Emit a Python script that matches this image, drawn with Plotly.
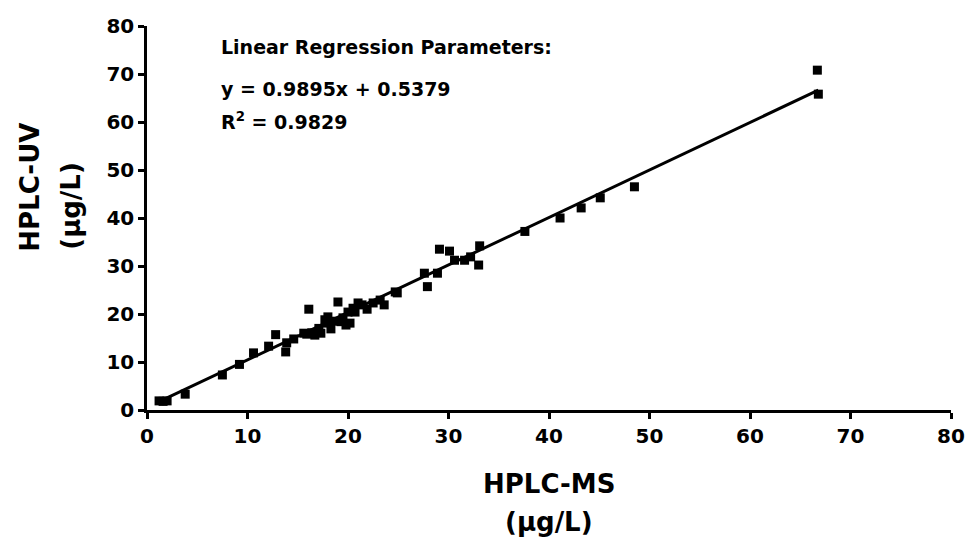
import plotly.graph_objects as go

# HPLC-MS (x) vs HPLC-UV (y), µg/L
ms = [1.2, 1.6, 2.0, 3.8, 7.5, 9.2, 10.6, 12.1, 12.8, 13.8, 13.9, 14.6,
      15.6, 15.9, 16.1, 16.4, 16.7, 17.1, 17.3, 17.7, 17.8, 18.0, 18.3, 18.6,
      19.0, 19.3, 19.5, 19.8, 20.0, 20.2, 20.5, 20.7, 21.0, 21.4, 21.9, 22.5,
      23.2, 23.6, 24.7, 24.9, 27.6, 27.9, 28.9, 29.1, 30.1, 30.6, 31.6, 32.2,
      33.0, 33.1, 37.6, 41.1, 43.2, 45.1, 48.5, 66.7, 66.8]
uv = [1.9, 1.8, 1.9, 3.3, 7.3, 9.5, 11.9, 13.3, 15.7, 12.1, 14.0, 14.8,
      16.0, 15.8, 21.0, 16.1, 15.6, 17.0, 16.0, 18.8, 18.1, 19.4, 16.9, 18.5,
      22.5, 18.4, 19.2, 17.7, 20.4, 18.1, 21.2, 20.4, 22.3, 21.9, 21.0, 22.3,
      22.9, 21.9, 24.6, 24.4, 28.5, 25.7, 28.5, 33.5, 33.1, 31.2, 31.2, 31.9,
      30.2, 34.2, 37.2, 40.0, 42.1, 44.2, 46.5, 70.8, 65.8]

slope = 0.9895
intercept = 0.5379
fit_x = [min(ms), max(ms)]
fit_y = [slope * v + intercept for v in fit_x]

ticks = [0, 10, 20, 30, 40, 50, 60, 70, 80]

font_family = "DejaVu Sans, Liberation Sans, Arial, sans-serif"

fig = go.Figure()
fig.add_trace(go.Scatter(x=fit_x, y=fit_y, mode="lines",
                         line=dict(color="black", width=3), showlegend=False))
fig.add_trace(go.Scatter(x=ms, y=uv, mode="markers",
                         marker=dict(symbol="square", size=9, color="black"),
                         showlegend=False))

axis_common = dict(range=[0, 80], tickvals=ticks, showgrid=False, zeroline=False,
                   showline=True, linecolor="black", linewidth=2.5,
                   ticks="outside", ticklen=6, tickwidth=2.5, tickcolor="black",
                   tickfont=dict(family=font_family, size=20, color="black", weight="bold"))

fig.update_layout(
    width=977, height=547,
    margin=dict(l=147, r=19, t=26, b=137),
    paper_bgcolor="white", plot_bgcolor="white",
    xaxis=dict(**axis_common),
    yaxis=dict(**axis_common, ticklabelstandoff=0),
    font=dict(family=font_family, color="black"),
)

ann_font = dict(family=font_family, size=19, color="black", weight="bold")
fig.add_annotation(x=0.09, y=0.945, xref="paper", yref="paper", xanchor="left",
                   yanchor="middle", showarrow=False,
                   text="Linear Regression Parameters:", font=ann_font)
fig.add_annotation(x=0.09, y=0.837, xref="paper", yref="paper", xanchor="left",
                   yanchor="middle", showarrow=False,
                   text="y = 0.9895x + 0.5379", font=ann_font)
fig.add_annotation(x=0.09, y=0.752, xref="paper", yref="paper", xanchor="left",
                   yanchor="middle", showarrow=False,
                   text="R<sup>2</sup> = 0.9829", font=ann_font)

title_font = dict(family=font_family, size=26, color="black", weight="bold")
# x-axis title
fig.add_annotation(x=0.5, y=-0.193, xref="paper", yref="paper", xanchor="center",
                   yanchor="middle", showarrow=False, text="HPLC-MS", font=title_font)
fig.add_annotation(x=0.5, y=-0.292, xref="paper", yref="paper", xanchor="center",
                   yanchor="middle", showarrow=False, text="(µg/L)", font=title_font)
# y-axis title
fig.add_annotation(x=-0.145, y=0.58, xref="paper", yref="paper", xanchor="center",
                   yanchor="middle", showarrow=False, text="HPLC-UV",
                   textangle=-90, font=title_font)
fig.add_annotation(x=-0.094, y=0.533, xref="paper", yref="paper", xanchor="center",
                   yanchor="middle", showarrow=False, text="(µg/L)",
                   textangle=-90, font=title_font)

fig.write_html("out.html")
